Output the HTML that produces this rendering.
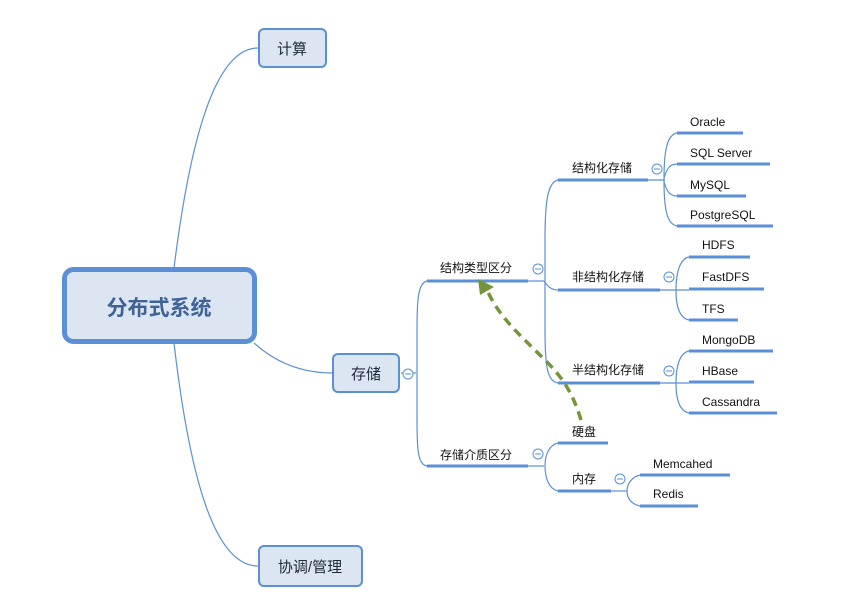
<!DOCTYPE html>
<html><head><meta charset="utf-8"><style>
html,body{margin:0;padding:0;background:#fff;}
svg{display:block}
text{font-family:"Liberation Sans","Noto Sans CJK SC",sans-serif;fill:#111;font-size:12px}
.u{stroke:#5b8fd6;stroke-width:3;fill:none}
.c{stroke:#5b8fd6;stroke-width:1.2;fill:none}
.k circle{fill:#fff;stroke:#5b8fd6;stroke-width:1}
.k line{stroke:#5b8fd6;stroke-width:1}
</style></head><body>
<svg width="866" height="614" viewBox="0 0 866 614">
<!-- main connectors -->
<path class="c" d="M174,268 C190,140 215,48 258,48"/>
<path class="c" d="M174,343 C190,480 215,566 258,566"/>
<path class="c" d="M254,343 C275,362 300,373 332,373"/>
<!-- boxes -->
<rect x="64.5" y="269.5" width="190" height="72" rx="9" fill="#dce6f2" stroke="#5b8fd6" stroke-width="5"/>
<text x="159" y="315" text-anchor="middle" style="font-size:21px;font-weight:bold;fill:#3f6397">分布式系统</text>
<rect x="259" y="29" width="67" height="38" rx="5" fill="#dce6f2" stroke="#5b8fd6" stroke-width="2"/>
<text x="292" y="54" text-anchor="middle" style="font-size:15px;fill:#1d2a3a">计算</text>
<rect x="333" y="354" width="66" height="38" rx="5" fill="#dce6f2" stroke="#5b8fd6" stroke-width="2"/>
<text x="366" y="379" text-anchor="middle" style="font-size:15px;fill:#1d2a3a">存储</text>
<rect x="259" y="546" width="103" height="40" rx="5" fill="#dce6f2" stroke="#5b8fd6" stroke-width="2"/>
<text x="310" y="572" text-anchor="middle" style="font-size:15px;fill:#1d2a3a">协调/管理</text>
<!-- 存储 children -->
<path class="c" d="M401,373 L416,373"/>
<path class="c" d="M427,281 C418,283 417,300 417,330 L417,420 C417,450 418,465 427,466"/>
<path class="u" d="M427,281 H528"/><text x="440" y="272">结构类型区分</text>
<path class="u" d="M427,466 H528"/><text x="440" y="459">存储介质区分</text>
<!-- 结构类型 children -->
<path class="c" d="M528,281 H544"/>
<path class="c" d="M558,180 C548,182 545,200 545,240 L545,330 C545,370 548,381 558,383"/>
<path class="c" d="M544,281 C547,285 550,290 558,290"/>
<path class="u" d="M558,180 H648"/><text x="572" y="172">结构化存储</text>
<path class="u" d="M558,290 H660"/><text x="572" y="281">非结构化存储</text>
<path class="u" d="M558,383 H660"/><text x="572" y="374">半结构化存储</text>
<!-- 结构化 -->
<path class="c" d="M648,180 H665"/>
<path class="c" d="M677,133 C667,135 664,150 664,180 C664,210 667,224 677,226"/>
<path class="c" d="M664,178 C667,168 670,164 677,164"/>
<path class="c" d="M664,182 C667,192 670,196 677,196"/>
<path class="u" d="M677,133 H743"/><text x="690" y="126">Oracle</text>
<path class="u" d="M677,164 H770"/><text x="690" y="157">SQL Server</text>
<path class="u" d="M677,196 H746"/><text x="690" y="189">MySQL</text>
<path class="u" d="M677,226 H773"/><text x="690" y="219">PostgreSQL</text>
<!-- 非结构化 -->
<path class="c" d="M660,290 H689"/>
<path class="c" d="M689,257 C679,259 676,275 676,290 C676,305 679,318 689,320"/>
<path class="u" d="M689,257 H750"/><text x="702" y="249">HDFS</text>
<path class="u" d="M689,289 H764"/><text x="702" y="281">FastDFS</text>
<path class="u" d="M689,320 H738"/><text x="702" y="313">TFS</text>
<!-- 半结构化 -->
<path class="c" d="M660,383 H689"/>
<path class="c" d="M689,351 C679,353 676,368 676,383 C676,398 679,411 689,413"/>
<path class="u" d="M689,351 H773"/><text x="702" y="344">MongoDB</text>
<path class="u" d="M689,382 H754"/><text x="702" y="375">HBase</text>
<path class="u" d="M689,413 H777"/><text x="702" y="406">Cassandra</text>
<!-- 存储介质 -->
<path class="c" d="M528,466 H544"/>
<path class="c" d="M558,443 C549,445 545,455 545,466 C545,478 549,489 558,491"/>
<path class="u" d="M558,443 H608"/><text x="572" y="436">硬盘</text>
<path class="u" d="M558,491 H611"/><text x="572" y="483">内存</text>
<path class="c" d="M611,491 H627"/>
<path class="c" d="M640,475 C631,477 627,485 627,491 C627,498 631,504 640,506"/>
<path class="u" d="M640,475 H730"/><text x="653" y="468">Memcahed</text>
<path class="u" d="M640,506 H698"/><text x="653" y="498">Redis</text>
<!-- collapse markers -->
<g class="k">
<circle cx="408" cy="374" r="5"/><line x1="405" y1="374" x2="411" y2="374"/>
<circle cx="538" cy="269" r="5"/><line x1="535" y1="269" x2="541" y2="269"/>
<circle cx="538" cy="454" r="5"/><line x1="535" y1="454" x2="541" y2="454"/>
<circle cx="657" cy="169" r="5"/><line x1="654" y1="169" x2="660" y2="169"/>
<circle cx="669" cy="277" r="5"/><line x1="666" y1="277" x2="672" y2="277"/>
<circle cx="669" cy="371" r="5"/><line x1="666" y1="371" x2="672" y2="371"/>
<circle cx="620" cy="479" r="5"/><line x1="617" y1="479" x2="623" y2="479"/>
</g>
<!-- dashed green arrow -->
<path d="M581,420 C572,390 560,375 545,360 C520,335 500,318 488,292" fill="none" stroke="#76953a" stroke-width="3.5" stroke-dasharray="9,6"/>
<polygon points="478,279 494,287 480,295" fill="#76953a"/>
</svg>
</body></html>
